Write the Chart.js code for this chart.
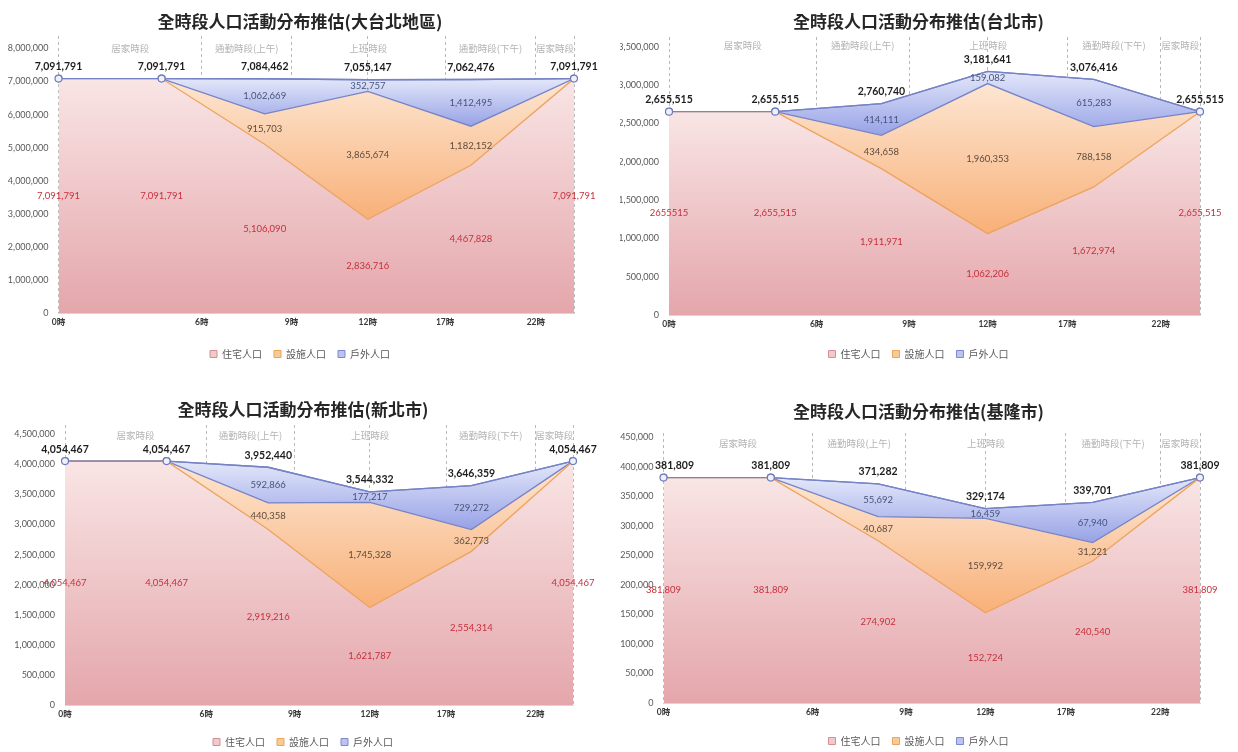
<!DOCTYPE html>
<html>
<head>
<meta charset="utf-8">
<script src="https://cdn.jsdelivr.net/npm/chart.js@4.4.1/dist/chart.umd.min.js"></script>
<style>
body{margin:0;background:#fff;width:1238px;height:752px;overflow:hidden;position:relative}
canvas{position:absolute}
</style>
</head>
<body>
<canvas id="c1" width="612" height="375" style="left:0;top:0"></canvas>
<canvas id="c2" width="618" height="375" style="left:620px;top:0"></canvas>
<canvas id="c3" width="612" height="380" style="left:0;top:385px"></canvas>
<canvas id="c4" width="618" height="380" style="left:620px;top:385px"></canvas>
<script>
// time slots (category positions) and the time ticks shown under the axis
const slots = [0, 1, 2, 3, 4, 5];
const hourLabels = ['0時', '6時', '9時', '12時', '17時', '22時', ''];
const hourPos = [0, 1.39, 2.26, 3, 3.75, 4.63, 5];
const periodLabels = ['居家時段', '通勤時段(上午)', '上班時段', '通勤時段(下午)', '居家時段'];
const periodEdges = [0, 1.39, 2.26, 3.75, 4.63, 5];
const seriesNames = ['住宅人口', '設施人口', '戶外人口'];

// 大台北地區
const tpaHome = [7091791, 7091791, 5106090, 2836716, 4467828, 7091791];
const tpaFacility = [0, 0, 915703, 3865674, 1182152, 0];
const tpaOutdoor = [0, 0, 1062669, 352757, 1412495, 0];
const tpaTotal = [7091791, 7091791, 7084462, 7055147, 7062476, 7091791];

// 台北市
const tpeHome = [2655515, 2655515, 1911971, 1062206, 1672974, 2655515];
const tpeFacility = [0, 0, 434658, 1960353, 788158, 0];
const tpeOutdoor = [0, 0, 414111, 159082, 615283, 0];
const tpeTotal = [2655515, 2655515, 2760740, 3181641, 3076416, 2655515];

// 新北市
const ntpHome = [4054467, 4054467, 2919216, 1621787, 2554314, 4054467];
const ntpFacility = [0, 0, 440358, 1745328, 362773, 0];
const ntpOutdoor = [0, 0, 592866, 177217, 729272, 0];
const ntpTotal = [4054467, 4054467, 3952440, 3544332, 3646359, 4054467];

// 基隆市
const klHome = [381809, 381809, 274902, 152724, 240540, 381809];
const klFacility = [0, 0, 40687, 159992, 31221, 0];
const klOutdoor = [0, 0, 55692, 16459, 67940, 0];
const klTotal = [381809, 381809, 371282, 329174, 339701, 381809];

const NUM = 'Lato, "Noto Sans CJK TC", sans-serif';
const CJK = '"Noto Sans CJK TC", sans-serif';
const lineBlue = '#7683c6';
const lineOrange = '#eda35e';
const labelColors = ['#c7303c', '#5e4b3c', '#46557a'];
const legendFill = ['#f1c9cb', '#f9c996', '#bcc3f0'];
const legendLine = ['#d38f94', '#e9a45e', '#7d88cf'];

const fmt = v => v.toLocaleString('en-US');

function vGrad(chart, vTop, vBottom, cTop, cBottom) {
    if (!chart.chartArea) return cBottom;
    const y = chart.scales.y;
    const g = chart.ctx.createLinearGradient(0, y.getPixelForValue(vTop), 0, y.getPixelForValue(vBottom));
    g.addColorStop(0, cTop);
    g.addColorStop(1, cBottom);
    return g;
}

const overlay = {
    id: 'overlay',
    afterDatasetsDraw(chart, args, o) {
        const {ctx, chartArea: a, scales: {x, y}} = chart;
        // bring the outdoor (top) line and its markers above the other borders
        const top = chart.getDatasetMeta(2);
        top.dataset.draw(ctx, a);
        top.data.forEach(p => p.draw(ctx, a));

        ctx.save();
        ctx.textAlign = 'center';
        ctx.textBaseline = 'middle';
        ctx.font = '9.5px ' + CJK;
        ctx.fillStyle = '#b3b3b3';
        periodLabels.forEach((t, i) => {
            ctx.fillText(t, x.getPixelForValue((periodEdges[i] + periodEdges[i + 1]) / 2), a.top + o.bandY);
        });
        const series = chart.data.datasets.map(d => d.data);
        slots.forEach((s, i) => {
            const px = x.getPixelForValue(s);
            let base = 0;
            series.forEach((vals, k) => {
                const v = vals[i];
                if (v) {
                    ctx.font = '9.5px ' + NUM;
                    ctx.fillStyle = labelColors[k];
                    const txt = (k === 0 && o.rawHome.includes(i)) ? String(v) : fmt(v);
                    ctx.fillText(txt, px, y.getPixelForValue(base + v / 2));
                }
                base += v;
            });
            ctx.font = 'bold 10.5px ' + NUM;
            ctx.fillStyle = '#1e1e1e';
            const txt = fmt(o.total[i]);
            const hw = ctx.measureText(txt).width / 2;
            const tx = o.minX != null ? Math.max(px, o.minX + hw) : px;
            ctx.fillText(txt, tx, y.getPixelForValue(base) - 12);
        });
        ctx.restore();
    }
};

const charts = [
    {id: 'c1', title: '全時段人口活動分布推估(大台北地區)', home: tpaHome, facility: tpaFacility, outdoor: tpaOutdoor, total: tpaTotal,
     yTop: 8000000, step: 1000000, yMax: 8378000, rawHome: [], minX: null, w: 612, h: 375,
     area: {left: 58.5, right: 574, top: 36, bottom: 313}, center: 300, titleY: 22, legendY: 354, bandY: 12},
    {id: 'c2', title: '全時段人口活動分布推估(台北市)', home: tpeHome, facility: tpeFacility, outdoor: tpeOutdoor, total: tpeTotal,
     yTop: 3500000, step: 500000, yMax: 3631000, rawHome: [0], minX: null, w: 618, h: 375,
     area: {left: 49, right: 580, top: 37, bottom: 315}, center: 298.5, titleY: 22, legendY: 354, bandY: 8},
    {id: 'c3', title: '全時段人口活動分布推估(新北市)', home: ntpHome, facility: ntpFacility, outdoor: ntpOutdoor, total: ntpTotal,
     yTop: 4500000, step: 500000, yMax: 4655000, rawHome: [], minX: null, w: 612, h: 380,
     area: {left: 65, right: 573, top: 40, bottom: 320}, center: 303, titleY: 25, legendY: 357, bandY: 10},
    {id: 'c4', title: '全時段人口活動分布推估(基隆市)', home: klHome, facility: klFacility, outdoor: klOutdoor, total: klTotal,
     yTop: 450000, step: 50000, yMax: 457300, rawHome: [], minX: 35, w: 618, h: 380,
     area: {left: 43.5, right: 580, top: 48, bottom: 318}, center: 298.5, titleY: 27, legendY: 356, bandY: 10}
];

charts.forEach(c => {
    const A = c.area;
    const boxRight = 2 * c.center;          // title and legend are centred on [0, boxRight]
    const legendTop = c.legendY - 17;
    const xAxisH = legendTop - A.bottom;
    const padBottom = c.h - (legendTop + 32);
    const stackHF = c.home.map((v, i) => v + c.facility[i]);
    new Chart(document.getElementById(c.id), {
        type: 'line',
        data: {
            labels: slots,
            datasets: [
                {label: seriesNames[0], data: c.home, fill: 'origin', borderColor: lineOrange, borderWidth: 1.3, pointRadius: 0,
                 backgroundColor: ctx => vGrad(ctx.chart, Math.max(...c.home), 0, '#f9e5e5', '#e4a6ab')},
                {label: seriesNames[1], data: c.facility, fill: '-1', borderColor: lineBlue, borderWidth: 1.3, pointRadius: 0,
                 backgroundColor: ctx => vGrad(ctx.chart, Math.max(...stackHF), Math.min(...c.home), '#fde6d2', '#f8b078')},
                {label: seriesNames[2], data: c.outdoor, fill: '-1', borderColor: lineBlue, borderWidth: 1.3,
                 pointRadius: c.outdoor.map(v => v === 0 ? 3.5 : 0), pointBackgroundColor: '#eef0fa',
                 pointBorderColor: '#6d79bb', pointBorderWidth: 1.2,
                 backgroundColor: ctx => vGrad(ctx.chart, Math.max(...c.total), Math.min(...stackHF), '#e3e7fa', '#97a2e6')}
            ]
        },
        options: {
            responsive: false,
            animation: false,
            events: [],
            elements: {line: {tension: 0}},
            layout: {padding: {left: 0, top: 0, right: c.w - boxRight, bottom: padBottom}},
            scales: {
                x: {
                    type: 'linear', min: 0, max: 5,
                    afterBuildTicks: s => { s.ticks = hourPos.map(v => ({value: v})); },
                    afterFit: s => { s.height = xAxisH; },
                    ticks: {autoSkip: false, maxRotation: 0, padding: 4, color: '#3a3a3a',
                            font: {family: NUM, size: 8.5, weight: 'bold'},
                            callback: (v, i) => hourLabels[i]},
                    grid: {color: '#b9b9b9', lineWidth: 1, drawTicks: false},
                    border: {display: true, color: '#d6d6d6', dash: [3, 3]}
                },
                y: {
                    stacked: true, min: 0, max: c.yMax,
                    afterBuildTicks: s => {
                        const t = [];
                        for (let v = 0; v <= c.yTop; v += c.step) t.push({value: v});
                        s.ticks = t;
                    },
                    afterFit: s => { s.width = A.left; },
                    ticks: {padding: 10, color: '#595959', font: {family: NUM, size: 9},
                            callback: v => fmt(v)},
                    grid: {display: false, drawTicks: false},
                    border: {display: false}
                },
                // empty right-hand margin so the plot ends where the reference ends
                gap: {
                    position: 'right', display: true,
                    afterFit: s => { s.width = boxRight - A.right; },
                    ticks: {display: false},
                    grid: {display: false, drawTicks: false},
                    border: {display: false}
                }
            },
            plugins: {
                title: {display: true, text: c.title, color: '#262626',
                        font: {family: CJK, size: 17, weight: 'bold'},
                        padding: {top: c.titleY - 10.2, bottom: A.top - c.titleY - 10.2}},
                legend: {position: 'bottom',
                         labels: {boxWidth: 7, boxHeight: 7, padding: 12, color: '#595959',
                                  font: {family: CJK, size: 10},
                                  generateLabels: () => seriesNames.map((n, i) => ({
                                      text: n, fillStyle: legendFill[i], strokeStyle: legendLine[i],
                                      lineWidth: 1, hidden: false, datasetIndex: i, fontColor: '#595959'}))}},
                tooltip: {enabled: false},
                overlay: {total: c.total, rawHome: c.rawHome, bandY: c.bandY, minX: c.minX}
            }
        },
        plugins: [overlay]
    });
});
</script>
</body>
</html>
